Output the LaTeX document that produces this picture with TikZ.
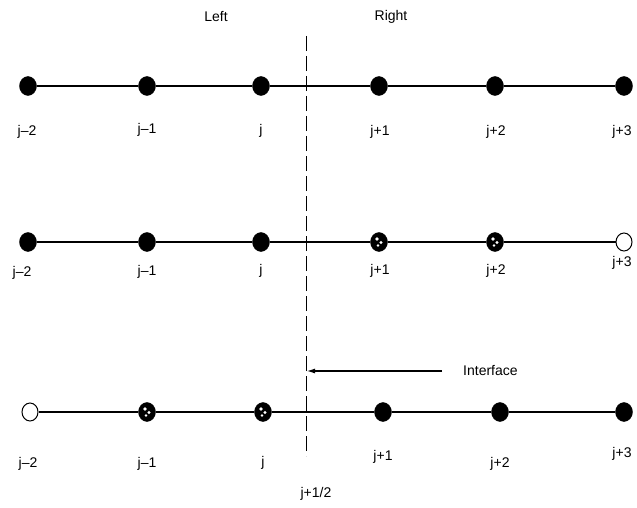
\documentclass[tikz,border=0pt]{standalone}
\usepackage{fontspec}
\setmainfont{Liberation Sans}
\usetikzlibrary{arrows.meta,shapes.geometric}
\tikzset{
  full/.style={ellipse,fill=black,draw=black,minimum width=17pt,minimum height=19pt,inner sep=0pt},
  hollow/.style={ellipse,fill=white,draw=black,line width=1pt,minimum width=16pt,minimum height=18pt,inner sep=0pt},
  speck/.style={ellipse,fill=black,draw=black,minimum width=17pt,minimum height=19pt,inner sep=0pt,
    path picture={\fill[white] ([xshift=-2pt,yshift=3pt]path picture bounding box.center) circle (1.8pt);
                  \fill[white] ([xshift=2pt,yshift=-0.5pt]path picture bounding box.center) circle (1.6pt);
                  \fill[white] ([xshift=-1pt,yshift=-3.5pt]path picture bounding box.center) circle (1.4pt);}},
  thick line/.style={line width=2.2pt},
  thin line/.style={line width=1.1pt},
  lbl/.style={font=\fontsize{14}{16}\selectfont,inner sep=1pt},
  iface/.style={dash pattern=on 15pt off 5pt,line width=1pt}
}
\begin{document}
\begin{tikzpicture}[x=1pt,y=-1pt]
\useasboundingbox (0,0) rectangle (637,508);
% labels on top
\node[lbl] (left) at (216,17) {Left};
\node[lbl] (right) at (391,17) {Right};
% interface dashed line
\coordinate (dtop) at (306,36);
\coordinate (dbot) at (306,456);
\draw[iface] (dtop) -- (dbot);
% row 1
\node[full] (a1) at (28,86) {};
\node[full] (a2) at (147,86) {};
\node[full] (a3) at (261,86) {};
\node[full] (a4) at (379,86) {};
\node[full] (a5) at (495,86) {};
\node[full] (a6) at (624,86) {};
\draw[thick line] (a1) -- (a2);
\draw[thick line] (a2) -- (a3);
\draw[thin line] (a3) -- (a4);
\draw[thin line] (a4) -- (a5);
\draw[thick line] (a5) -- (a6);
\node[lbl] (la1) at (27,132) {j–2};
\node[lbl] (la2) at (147,130) {j–1};
\node[lbl] (la3) at (261,131) {j};
\node[lbl] (la4) at (380,132) {j+1};
\node[lbl] (la5) at (496,132) {j+2};
\node[lbl] (la6) at (622,132) {j+3};
% row 2
\node[full] (b1) at (28,242) {};
\node[full] (b2) at (147,242) {};
\node[full] (b3) at (261,242) {};
\node[speck] (b4) at (379,242) {};
\node[speck] (b5) at (495,242) {};
\node[hollow] (b6) at (624,242) {};
\draw[thick line] (b1) -- (b2);
\draw[thick line] (b2) -- (b3);
\draw[thick line] (b3) -- (b4);
\draw[thick line] (b4) -- (b5);
\draw[thick line] (b5) -- (b6);
\node[lbl] (lb1) at (22,273) {j–2};
\node[lbl] (lb2) at (147,272) {j–1};
\node[lbl] (lb3) at (261,271) {j};
\node[lbl] (lb4) at (380,271) {j+1};
\node[lbl] (lb5) at (496,271) {j+2};
\node[lbl] (lb6) at (622,263) {j+3};
% interface arrow
\coordinate (iarr) at (307,371);
\node[lbl,anchor=west] (itxt) at (462,371) {Interface};
\draw[line width=1.1pt,-{Latex[length=8pt,width=5pt]}] (442,371) -- (iarr);
% row 3
\node[hollow] (c1) at (30,412) {};
\node[speck] (c2) at (147,412) {};
\node[speck] (c3) at (263,412) {};
\node[full] (c4) at (383,412) {};
\node[full] (c5) at (500,412) {};
\node[full] (c6) at (624,412) {};
\draw[thin line] (c1) -- (c2);
\draw[thin line] (c2) -- (c3);
\draw[thick line] (c3) -- (c4);
\draw[thick line] (c4) -- (c5);
\draw[thin line] (c5) -- (c6);
\node[lbl] (lc1) at (28,464) {j–2};
\node[lbl] (lc2) at (147,464) {j–1};
\node[lbl] (lc3) at (263,463) {j};
\node[lbl] (lc4) at (383,457) {j+1};
\node[lbl] (lc5) at (500,464) {j+2};
\node[lbl] (lc6) at (622,454) {j+3};
\node[lbl] (half) at (316,494) {j+1/2};
\end{tikzpicture}
\end{document}
